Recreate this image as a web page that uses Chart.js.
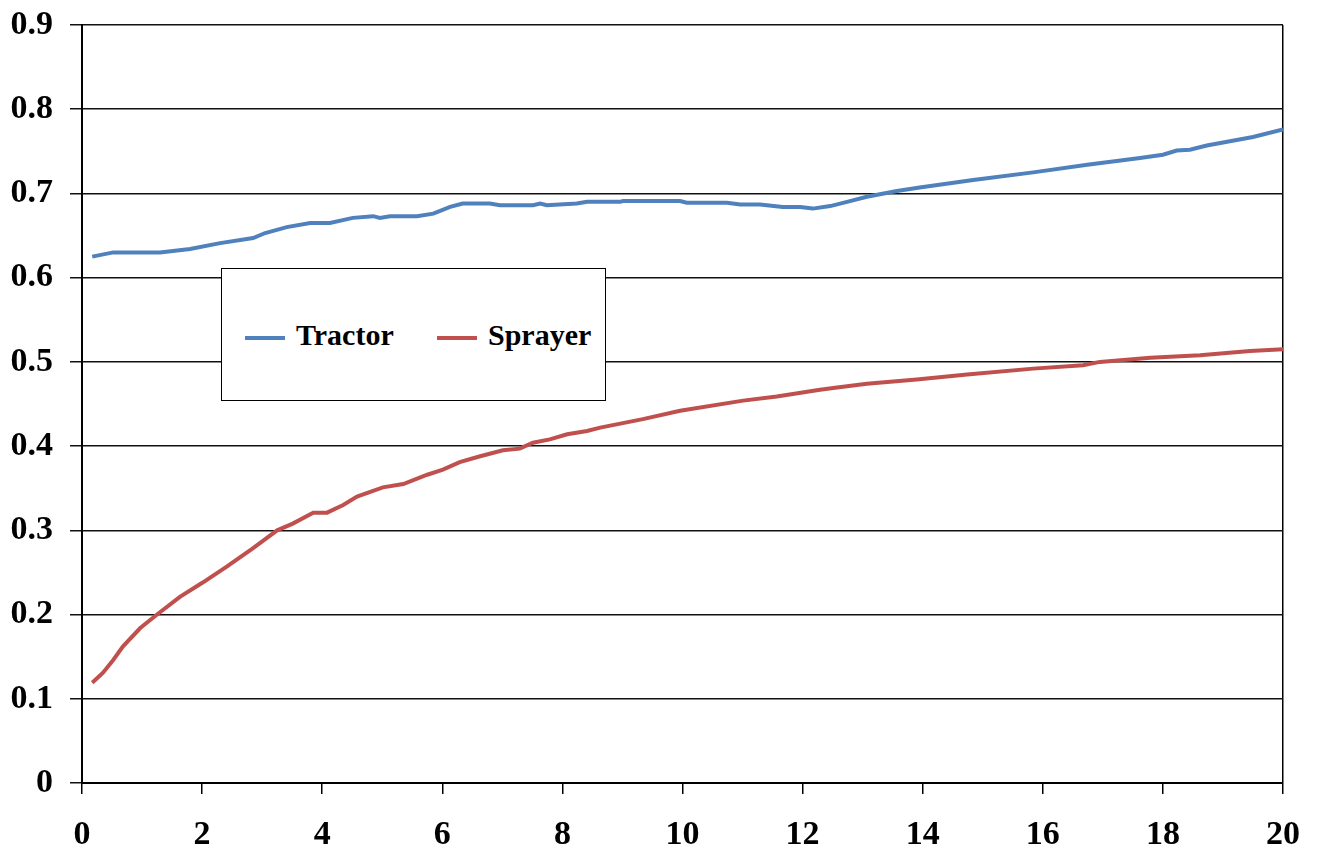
<!DOCTYPE html>
<html>
<head>
<meta charset="utf-8">
<script src="https://cdn.jsdelivr.net/npm/chart.js@4/dist/chart.umd.min.js"></script>
<style>
  body { margin: 0; background: #fff; }
  #wrap { position: relative; width: 1319px; height: 851px; }
  #legendBox {
    position: absolute; left: 221px; top: 268px; width: 383px; height: 131px;
    border: 1.5px solid #000; background: #fff;
    font-family: "Liberation Serif", "Times New Roman", serif; font-weight: bold; font-size: 30px;
  }
  .item { position: absolute; top: 48px; height: 36px; line-height: 36px; white-space: nowrap; }
  .swatch { display: inline-block; width: 40px; height: 4px; vertical-align: middle; margin-right: 11px; }
</style>
</head>
<body>
<div id="wrap">
  <canvas id="graf" width="1319" height="851"></canvas>
  <div id="legendBox"></div>
</div>
<script>
var tractorX = [0.17, 0.52, 1.30, 1.80, 2.30, 2.85, 3.05, 3.41, 3.80, 4.13, 4.51, 4.85, 4.96, 5.13, 5.58, 5.85, 6.13, 6.34, 6.79, 6.96, 7.51, 7.63, 7.74, 8.24, 8.41, 8.96, 9.01, 9.96, 10.07, 10.74, 10.96, 11.29, 11.67, 11.96, 12.17, 12.46, 12.74, 13.07, 13.57, 13.95, 14.84, 15.84, 16.74, 17.62, 18.00, 18.23, 18.45, 18.73, 19.50, 20.00];
var tractorY = [0.625, 0.630, 0.630, 0.634, 0.641, 0.647, 0.653, 0.660, 0.665, 0.665, 0.671, 0.673, 0.671, 0.673, 0.673, 0.676, 0.684, 0.688, 0.688, 0.686, 0.686, 0.688, 0.686, 0.688, 0.690, 0.690, 0.691, 0.691, 0.689, 0.689, 0.687, 0.687, 0.684, 0.684, 0.682, 0.685, 0.690, 0.696, 0.703, 0.707, 0.716, 0.725, 0.734, 0.742, 0.746, 0.751, 0.752, 0.757, 0.767, 0.776];

var sprayerX = [0.17, 0.35, 0.52, 0.68, 0.97, 1.25, 1.63, 2.01, 2.41, 2.85, 3.25, 3.51, 3.85, 4.08, 4.35, 4.58, 5.01, 5.35, 5.75, 6.01, 6.29, 6.63, 7.01, 7.29, 7.51, 7.79, 8.08, 8.41, 8.63, 9.34, 9.96, 11.01, 11.57, 12.29, 12.51, 13.07, 13.90, 14.74, 15.84, 16.67, 16.95, 17.79, 18.62, 19.45, 20.00];
var sprayerY = [0.119, 0.131, 0.146, 0.162, 0.184, 0.200, 0.221, 0.238, 0.257, 0.279, 0.300, 0.308, 0.321, 0.321, 0.330, 0.340, 0.351, 0.355, 0.366, 0.372, 0.381, 0.388, 0.395, 0.397, 0.404, 0.408, 0.414, 0.418, 0.422, 0.432, 0.442, 0.454, 0.459, 0.467, 0.469, 0.474, 0.479, 0.485, 0.492, 0.496, 0.500, 0.505, 0.508, 0.513, 0.515];

var seriesNames = ["Tractor", "Sprayer"];
var seriesColors = ["#4F81BD", "#C0504D"];

function pares(xs, ys) {
    var out = [];
    for (var i = 0; i < xs.length; i++) {
        out.push({x: xs[i], y: ys[i]});
    }
    return out;
}

function makeChart() {
    var ctx = document.getElementById("graf");
    var fonte = {family: "'Liberation Serif', 'Times New Roman', serif", weight: "bold", size: 34};

    var chart = new Chart(ctx, {
        type: 'line',
        data: {
            datasets: [
                {label: seriesNames[0], data: pares(tractorX, tractorY), borderColor: seriesColors[0], backgroundColor: seriesColors[0], borderWidth: 4, pointRadius: 0, tension: 0},
                {label: seriesNames[1], data: pares(sprayerX, sprayerY), borderColor: seriesColors[1], backgroundColor: seriesColors[1], borderWidth: 4, pointRadius: 0, tension: 0}
            ]
        },
        options: {
            responsive: false,
            animation: false,
            layout: {padding: {top: 25, right: 36, left: 0, bottom: 0}},
            plugins: {legend: {display: false}, tooltip: {enabled: false}},
            scales: {
                x: {
                    type: 'linear', min: 0, max: 20,
                    ticks: {stepSize: 2, color: '#000', font: fonte, padding: 21, maxRotation: 0},
                    grid: {
                        color: function (c) { return c.tick && c.tick.value === 20 ? '#000' : 'rgba(0,0,0,0)'; },
                        tickColor: '#000', tickLength: 11, lineWidth: 1.5
                    },
                    border: {color: '#000', width: 2},
                    afterFit: function (s) { s.height = 68; s.paddingLeft = 0; s.paddingRight = 0; }
                },
                y: {
                    min: 0, max: 0.9,
                    ticks: {stepSize: 0.1, color: '#000', font: fonte, padding: 17,
                        callback: function (v) { return v === 0 ? '0' : v.toFixed(1); }},
                    grid: {color: '#111', tickColor: '#111', tickLength: 12, lineWidth: 1.5},
                    border: {color: '#000', width: 2},
                    afterFit: function (s) { s.width = 82; s.paddingTop = 0; s.paddingBottom = 0; }
                }
            }
        }
    });

    // legenda em HTML
    var box = document.getElementById("legendBox");
    var lefts = [23, 215];
    chart.data.datasets.forEach(function (ds, i) {
        var it = document.createElement("div");
        it.className = "item";
        it.style.left = lefts[i] + "px";
        it.innerHTML = '<span class="swatch" style="background:' + ds.borderColor + '"></span>' + ds.label;
        box.appendChild(it);
    });
}

document.addEventListener('DOMContentLoaded', makeChart);
</script>
</body>
</html>
